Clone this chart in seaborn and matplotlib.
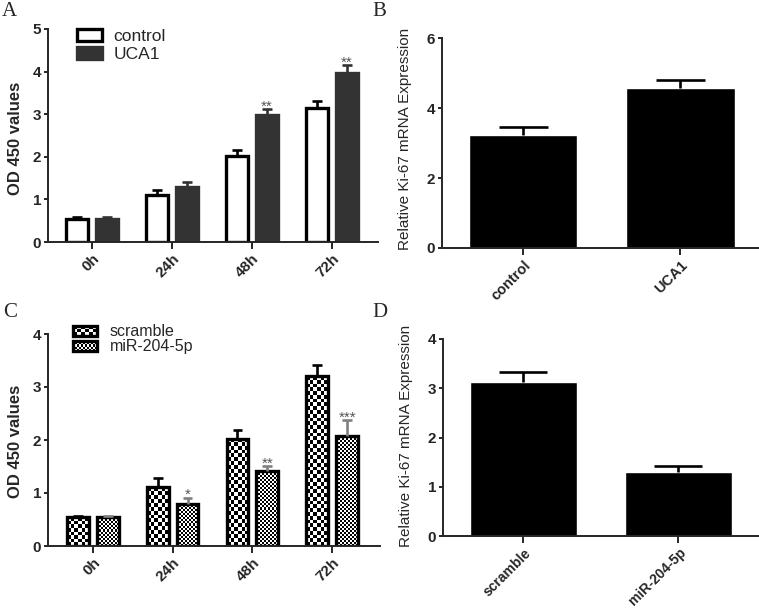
import numpy as np
import pandas as pd
import seaborn as sns
import matplotlib
matplotlib.use("Agg")
import matplotlib.pyplot as plt
from matplotlib.patches import Patch, Rectangle
from matplotlib.legend_handler import HandlerBase
from matplotlib.image import BboxImage
from matplotlib.transforms import Bbox, TransformedBbox
from matplotlib.colors import Normalize

# panel A - proliferation, control vs UCA1
times = ["0h", "24h", "48h", "72h"]
a_groups = ["control", "UCA1"]
a_control = [0.54, 1.10, 2.03, 3.14]
a_control_err = [0.05, 0.12, 0.14, 0.16]
a_uca1 = [0.54, 1.29, 2.98, 3.96]
a_uca1_err = [0.04, 0.11, 0.14, 0.19]
a_stars = ["", "", "**", "**"]

# panel B - Ki-67 expression
b_groups = ["control", "UCA1"]
b_values = [3.24, 4.58]
b_err = [0.23, 0.21]

# panel C - proliferation, scramble vs miR-204-5p
c_groups = ["scramble", "miR-204-5p"]
c_scramble = [0.54, 1.11, 2.02, 3.20]
c_scramble_err = [0.02, 0.18, 0.16, 0.21]
c_mir = [0.54, 0.80, 1.41, 2.07]
c_mir_err = [0.02, 0.11, 0.10, 0.30]
c_stars = ["", "*", "**", "***"]

# panel D - Ki-67 expression
d_groups = ["scramble", "miR-204-5p"]
d_values = [3.13, 1.30]
d_err = [0.21, 0.12]

sns.set_style("ticks")
plt.rcParams["font.family"] = ["Liberation Sans", "DejaVu Sans"]

TICK_FS = 11
LW = 2.4


class CheckerHandler(HandlerBase):
    # legend box filled with a checkerboard like the bars
    def __init__(self, sq):
        super().__init__()
        self.sq = sq

    def create_artists(self, legend, orig_handle, xdescent, ydescent,
                       width, height, fontsize, trans):
        box = Bbox.from_bounds(-xdescent, -ydescent, width, height)
        nx = max(1, int(round(width * 100 / 72 / self.sq)))
        ny = max(1, int(round(height * 100 / 72 / self.sq)))
        img = np.indices((ny, nx)).sum(axis=0) % 2
        bim = BboxImage(TransformedBbox(box, trans), cmap="gray",
                        norm=Normalize(0, 1), interpolation="nearest", origin="lower")
        bim.set_data(img)
        rect = Rectangle((-xdescent, -ydescent), width, height, facecolor="none",
                         edgecolor="black", linewidth=LW, transform=trans)
        return [bim, rect]


def style_axis(ax, ymax, ystep, xlim, xfs=TICK_FS):
    sns.despine(ax=ax)
    ax.spines["left"].set_linewidth(1.4)
    ax.spines["bottom"].set_linewidth(1.4)
    ax.set_xlim(*xlim)
    ax.set_ylim(0, ymax)
    ax.set_yticks(np.arange(0, ymax + 0.01, ystep))
    ax.tick_params(axis="y", length=3, width=1.4, labelsize=TICK_FS, pad=2)
    ax.tick_params(axis="x", length=5, width=1.4, labelsize=xfs, pad=2)
    for lab in ax.get_xticklabels():
        lab.set_rotation(45)
        lab.set_ha("right")
        lab.set_rotation_mode("anchor")
        lab.set_fontweight("bold")
    for lab in ax.get_yticklabels():
        lab.set_fontweight("bold")
    ax.set_xlabel("")


def add_errbars(ax, container, means, errs, color, cap=0.45):
    for bar, m, e in zip(container, means, errs):
        xc = bar.get_x() + bar.get_width() / 2
        hw = bar.get_width() * cap / 2
        ax.vlines(xc, m, m + e, color=color, lw=1.9, zorder=3)
        ax.hlines(m + e, xc - hw, xc + hw, color=color, lw=1.9, zorder=3)


def add_stars(ax, container, means, errs, stars):
    for bar, m, e, s in zip(container, means, errs, stars):
        if s:
            xc = bar.get_x() + bar.get_width() / 2
            ax.annotate(s, (xc, m + e), xytext=(0, -1), textcoords="offset points",
                        ha="center", va="baseline", color="#555555", fontsize=11)


def checker_fill(ax, container, sq):
    for bar in container:
        bb = bar.get_window_extent()
        nx = max(1, int(round(bb.width / sq)))
        ny = max(1, int(round(bb.height / sq)))
        img = np.indices((ny, nx)).sum(axis=0) % 2
        x0, w, h = bar.get_x(), bar.get_width(), bar.get_height()
        im = ax.imshow(img, extent=[x0, x0 + w, 0, h], origin="lower", cmap="gray",
                       vmin=0, vmax=1, interpolation="nearest", aspect="auto", zorder=1.5)
        im.set_clip_path(bar)
        bar.set_facecolor("none")
        bar.set_zorder(2)


fig = plt.figure(figsize=(7.59, 6.09), dpi=100)
ax_a = fig.add_axes([48 / 759, 1 - 242 / 609, 330 / 759, 213 / 609])
ax_b = fig.add_axes([442 / 759, 1 - 248 / 609, 317 / 759, 210 / 609])
ax_c = fig.add_axes([48 / 759, 1 - 546 / 609, 332 / 759, 212 / 609])
ax_d = fig.add_axes([443 / 759, 1 - 536 / 609, 316 / 759, 197 / 609])

# ---- A ----
df_a = pd.DataFrame({
    "time": times * 2,
    "group": [a_groups[0]] * len(times) + [a_groups[1]] * len(times),
    "value": a_control + a_uca1,
})
sns.barplot(data=df_a, x="time", y="value", hue="group", hue_order=a_groups,
            palette={"control": "white", "UCA1": "#333333"}, width=0.75, gap=0.27,
            errorbar=None, saturation=1, linewidth=LW, edgecolor="black",
            legend=False, ax=ax_a)
for bar in ax_a.containers[1]:
    bar.set_edgecolor("#333333")
style_axis(ax_a, 5, 1, (-0.55, 3.575))
add_errbars(ax_a, ax_a.containers[0], a_control, a_control_err, "black")
add_errbars(ax_a, ax_a.containers[1], a_uca1, a_uca1_err, "#333333")
add_stars(ax_a, ax_a.containers[1], a_uca1, a_uca1_err, a_stars)
ax_a.set_ylabel("OD 450 values", fontsize=12, fontweight="bold")
ax_a.yaxis.set_label_coords(-0.076, 0.486)
handles_a = [Patch(facecolor="white", edgecolor="black", linewidth=LW, label="control"),
             Patch(facecolor="#333333", edgecolor="#333333", linewidth=LW, label="UCA1")]
ax_a.legend(handles=handles_a, loc="upper left", bbox_to_anchor=(0.088, 1.0),
            frameon=False, fontsize=12.5, handlelength=1.45, handleheight=0.7,
            handletextpad=0.65, labelspacing=0.15, borderpad=0, borderaxespad=0)

# ---- B ----
sns.barplot(x=b_groups, y=b_values, color="black", width=0.69, errorbar=None,
            saturation=1, ax=ax_b)
style_axis(ax_b, 6, 2, (-0.516, 1.5), xfs=10.5)
add_errbars(ax_b, ax_b.containers[0], b_values, b_err, "black")
ax_b.set_ylabel("Relative Ki-67 mRNA Expression", fontsize=11)
ax_b.yaxis.set_label_coords(-0.095, 0.52)

# ---- C ----
df_c = pd.DataFrame({
    "time": times * 2,
    "group": [c_groups[0]] * len(times) + [c_groups[1]] * len(times),
    "value": c_scramble + c_mir,
})
sns.barplot(data=df_c, x="time", y="value", hue="group", hue_order=c_groups,
            palette=["white", "white"], width=0.75, gap=0.27, errorbar=None,
            saturation=1, linewidth=LW, edgecolor="black", legend=False, ax=ax_c)
style_axis(ax_c, 4, 1, (-0.5625, 3.6))
checker_fill(ax_c, ax_c.containers[0], 3.8)
checker_fill(ax_c, ax_c.containers[1], 2.0)
ax_c.set_xlim(-0.5625, 3.6)
ax_c.set_ylim(0, 4)
add_errbars(ax_c, ax_c.containers[0], c_scramble, c_scramble_err, "black")
add_errbars(ax_c, ax_c.containers[1], c_mir, c_mir_err, "#808080")
add_stars(ax_c, ax_c.containers[1], c_mir, c_mir_err, c_stars)
ax_c.set_ylabel("OD 450 values", fontsize=12, fontweight="bold")
ax_c.yaxis.set_label_coords(-0.076, 0.495)
h_scr = Patch(label="scramble")
h_mir = Patch(label="miR-204-5p")
ax_c.legend(handles=[h_scr, h_mir], handler_map={h_scr: CheckerHandler(3.8), h_mir: CheckerHandler(2.0)},
            loc="upper left", bbox_to_anchor=(0.075, 1.045), frameon=False, fontsize=11.5,
            handlelength=1.5, handleheight=0.6, handletextpad=0.8, labelspacing=0.0,
            borderpad=0, borderaxespad=0)

# ---- D ----
sns.barplot(x=d_groups, y=d_values, color="black", width=0.69, errorbar=None,
            saturation=1, ax=ax_d)
style_axis(ax_d, 4, 1, (-0.519, 1.52), xfs=10)
add_errbars(ax_d, ax_d.containers[0], d_values, d_err, "black")
ax_d.set_ylabel("Relative Ki-67 mRNA Expression", fontsize=11)
ax_d.yaxis.set_label_coords(-0.095, 0.508)

# panel letters
for letter, x, y in [("A", 2, 2), ("B", 372, 2), ("C", 3, 303), ("D", 372, 303)]:
    fig.text(x / 759, 1 - y / 609, letter, family=["Liberation Serif", "DejaVu Serif"],
             fontsize=15, ha="left", va="top")

fig.savefig("out.png", dpi=100)
